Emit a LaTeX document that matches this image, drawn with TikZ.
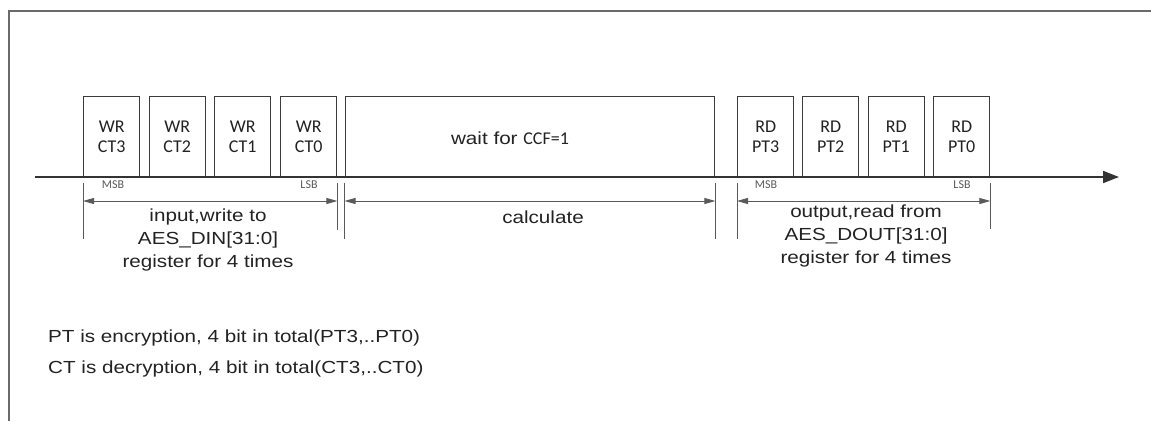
\documentclass[tikz,border=0pt]{standalone}
\usepackage{fontspec}
\setmainfont[FakeStretch=1.18]{Liberation Sans}
\newfontfamily\boxfont{Carlito}
\usetikzlibrary{arrows.meta}
\definecolor{boxgray}{HTML}{3C3C3C}
\definecolor{axisgray}{HTML}{333333}
\definecolor{dimgray}{HTML}{5A5A5A}
\definecolor{txt}{HTML}{222222}
\definecolor{framegray}{HTML}{6A6A6A}
\begin{document}
\begin{tikzpicture}[x=1pt,y=-1pt,
  regbox/.style={draw=boxgray, line width=1.4pt, inner sep=0pt, anchor=south west,
    minimum width=56pt, minimum height=80pt, align=center, text=txt,
    font=\boxfont\fontsize{18}{20}\selectfont},
  waitbox/.style={draw=boxgray, line width=1.4pt, inner sep=0pt, anchor=south west,
    minimum width=369.5pt, minimum height=80pt},
  axisline/.style={draw=axisgray, line width=1.8pt, -{Triangle[length=16pt,width=12pt]}},
  tickline/.style={draw=dimgray, line width=0.9pt},
  dimline/.style={draw=dimgray, line width=0.9pt,
    {Triangle[length=11pt,width=6pt]}-{Triangle[length=11pt,width=6pt]}},
  lbl/.style={text=txt, font=\fontsize{17.5}{23}\selectfont, inner sep=0pt, align=center},
  note/.style={text=txt, font=\fontsize{17.5}{23}\selectfont, inner sep=0pt, anchor=west},
  bitlbl/.style={text=dimgray, font=\boxfont\fontsize{12}{14}\selectfont, inner sep=0pt},
  frameline/.style={draw=framegray, line width=1.8pt}
]
\useasboundingbox (0,0) rectangle (1151,421);
% frame
\coordinate (fTR) at (1151,11);
\coordinate (fTL) at (9,11);
\coordinate (fBL) at (9,421);
\draw[frameline] (fTR) -- (fTL) -- (fBL);

% write boxes
\node[regbox] (ct3) at (83,177) {WR\\CT3};
\node[regbox] (ct2) at (148.5,177) {WR\\CT2};
\node[regbox] (ct1) at (214,177) {WR\\CT1};
\node[regbox] (ct0) at (280,177) {WR\\CT0};
% wait box
\node[waitbox] (wait) at (344.5,177) {};
\node[lbl, anchor=center] (waittxt) at (510,138) {wait for {\boxfont\fontsize{18}{20}\selectfont CCF=1}};
% read boxes
\node[regbox] (pt3) at (737,177) {RD\\PT3};
\node[regbox] (pt2) at (802,177) {RD\\PT2};
\node[regbox] (pt1) at (867.5,177) {RD\\PT1};
\node[regbox] (pt0) at (933,177) {RD\\PT0};

% axis
\coordinate (axs) at (35,177);
\coordinate (axe) at (1119,177);
\draw[axisline] (axs) -- (axe);

% MSB / LSB
\node[bitlbl] (msb1) at (113,185) {MSB};
\node[bitlbl] (lsb1) at (309,185) {LSB};
\node[bitlbl] (msb2) at (766,185) {MSB};
\node[bitlbl] (lsb2) at (962,185) {LSB};

% ticks
\draw[tickline] ([yshift=-6pt]ct3.south west) -- ([yshift=-62pt]ct3.south west);
\draw[tickline] ([yshift=-6pt]ct0.south east) -- ([yshift=-53pt]ct0.south east);
\draw[tickline] ([yshift=-6pt]wait.south west) -- ([yshift=-62pt]wait.south west);
\draw[tickline] ([yshift=-6pt]wait.south east) -- ([yshift=-62pt]wait.south east);
\draw[tickline] ([yshift=-6pt]pt3.south west) -- ([yshift=-62pt]pt3.south west);
\draw[tickline] ([yshift=-6pt]pt0.south east) -- ([yshift=-52pt]pt0.south east);

% dimension arrows
\draw[dimline] ([yshift=-24pt]ct3.south west) -- ([yshift=-24pt]ct0.south east);
\draw[dimline] ([yshift=-24pt]wait.south west) -- ([yshift=-24pt]wait.south east);
\draw[dimline] ([yshift=-24pt]pt3.south west) -- ([yshift=-24pt]pt0.south east);

% labels
\node[lbl] (inlbl) at (208,240) {input,write to\\AES\_DIN[31:0]\\register for 4 times};
\node[lbl] (calc) at (543,217) {calculate};
\node[lbl] (outlbl) at (866,236) {output,read from\\AES\_DOUT[31:0]\\register for 4 times};

% notes
\node[note] (n1) at (48,338) {PT is encryption, 4 bit in total(PT3,..PT0)};
\node[note] (n2) at (48,369) {CT is decryption, 4 bit in total(CT3,..CT0)};
\end{tikzpicture}
\end{document}
